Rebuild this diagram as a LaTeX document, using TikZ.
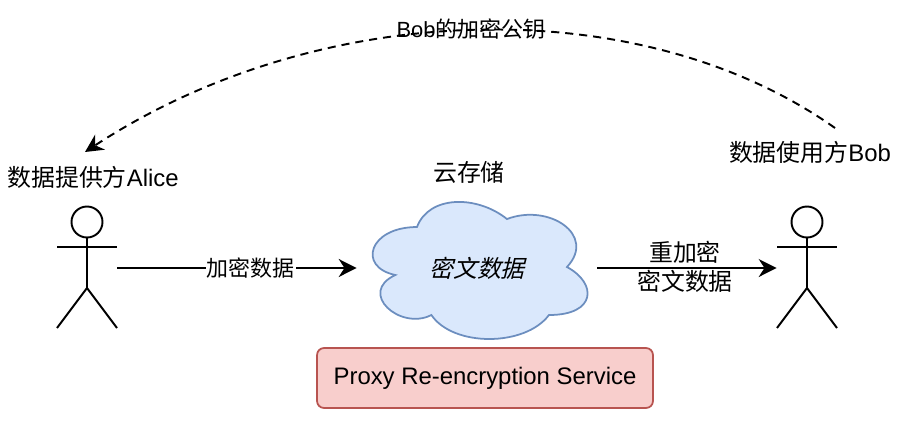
\documentclass[tikz,border=0pt]{standalone}
\usepackage{fontspec}
\setmainfont{Liberation Sans}
\newfontfamily\cjk{Noto Sans CJK SC}
\newfontfamily\cjkslant[FakeSlant=0.25]{Noto Sans CJK SC}
\usetikzlibrary{arrows.meta}
\definecolor{cloudfill}{HTML}{DAE8FC}
\definecolor{cloudline}{HTML}{6C8EBF}
\definecolor{proxyfill}{HTML}{F8CECC}
\definecolor{proxyline}{HTML}{B85450}
\tikzset{%
    edge/.style={%
        -{Stealth[length=0.36cm, width=0.36cm]},
        line width=1.1pt,
    },
    dashededge/.style={%
        edge,
        dash pattern=on 4.6pt off 3.4pt,
    },
    actorbox/.style={%
        rectangle,
        minimum width=1.2cm,
        minimum height=2.4cm,
        inner sep=0pt,
    },
    cloudbox/.style={%
        rectangle,
        minimum width=4.8cm,
        minimum height=3.2cm,
        inner sep=0pt,
        font=\fontsize{13.6pt}{16pt}\cjkslant,
    },
    proxybox/.style={%
        rectangle,
        fill=proxyfill,
        draw=proxyline,
        line width=1pt,
        rounded corners=4pt,
        minimum width=6.72cm,
        minimum height=1.2cm,
        font=\fontsize{13.6pt}{16pt}\selectfont,
    },
    label/.style={%
        font=\fontsize{13.6pt}{16pt}\selectfont,
        inner sep=1pt,
    },
    smalllabel/.style={%
        font=\fontsize{12.5pt}{16.5pt}\selectfont,
        inner sep=0.5pt,
    },
    twolines/.style={%
        font=\fontsize{13.6pt}{16.4pt}\selectfont,
        inner sep=0.5pt,
        align=center,
    },
    actor/.pic={%
        \draw[line width=1.1pt] (0,-46) circle (15.5);
        \draw[line width=1.1pt] (0,-30) -- (0,20) (-30,-21) -- (30,-21);
        \draw[line width=1.1pt] (-30,60) -- (0,20) -- (30,60);
    },
}

\begin{document}
\begin{tikzpicture}[x=0.02cm, y=-0.02cm]
	\useasboundingbox (0,0) rectangle (902,436);

	\begin{scope}[shift={(357,347)}, x=4.8cm, y=3.2cm]
		\draw[fill=cloudfill, draw=cloudline, line width=1pt]
			(0.25,0.75)
			.. controls (0.05,0.75) and (0,0.5) .. (0.16,0.45)
			.. controls (0,0.34) and (0.18,0.1) .. (0.31,0.2)
			.. controls (0.4,0) and (0.7,0) .. (0.8,0.2)
			.. controls (1,0.2) and (1,0.4) .. (0.875,0.5)
			.. controls (1,0.7) and (0.8,0.9) .. (0.625,0.8)
			.. controls (0.5,0.95) and (0.3,0.95) .. (0.25,0.75)
			-- cycle;
	\end{scope}

	\node [actorbox] at (87,268) (alice) {};
	\node [actorbox] at (807,268) (bob) {};
	\pic at (alice) {actor};
	\pic at (bob) {actor};

	\node [cloudbox] at (477,268) (cloud) {密文数据};
	\node [proxybox] at (485,378) (proxy) {Proxy Re-encryption Service};

	\node [label] at (93,177) (alice_name) {{\cjk 数据提供方}Alice};
	\node [label] at (810,152) (bob_name) {{\cjk 数据使用方}Bob};
	\node [label] at (469,172) (cloud_name) {\cjk 云存储};

	\coordinate (key_start) at (835,128);
	\coordinate (key_end) at (85,152);

	\draw[edge] (alice) -- node [smalllabel, fill=white, pos=0.558] (enc_label) {\cjk 加密数据} (cloud);
	\draw[edge] (cloud) -- (bob);
	\node [twolines] at (685,266.5) (reenc_label) {\cjk 重加密\\\cjk 密文数据};

	\draw[dashededge] (key_start) .. controls (640,-10) and (320,-2) .. (key_end);
	\node [smalllabel] at (471,29) (key_label) {Bob{\cjk 的加密公钥}};
\end{tikzpicture}
\end{document}
